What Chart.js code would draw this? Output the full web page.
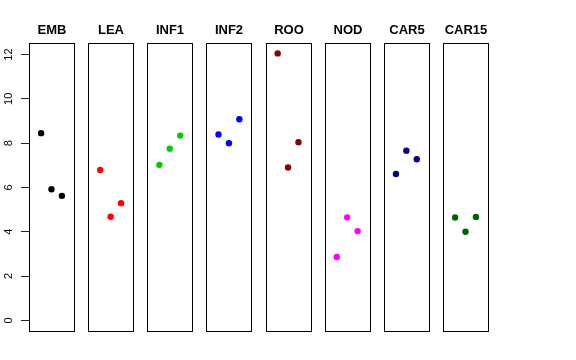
<!DOCTYPE html>
<html>
<head>
<meta charset="utf-8">
<script src="https://cdn.jsdelivr.net/npm/chart.js@4/dist/chart.umd.min.js"></script>
<style>
html,body{margin:0;padding:0;background:#fff;}
canvas{display:block;}
</style>
</head>
<body>
<canvas id="c" width="576" height="360"></canvas>
<script>
// ---- data ----
const categories = ['EMB', 'LEA', 'INF1', 'INF2', 'ROO', 'NOD', 'CAR5', 'CAR15'];
const colors = ['#000000', '#FF0000', '#00CD00', '#0000FF', '#8B0000', '#FF00FF', '#00008B', '#006400'];
const rep1 = [8.45, 6.79, 7.02, 8.39, 12.05, 2.86, 6.61, 4.64];
const rep2 = [5.92, 4.68, 7.75, 8.00, 6.90, 4.65, 7.66, 4.00];
const rep3 = [5.62, 5.29, 8.34, 9.08, 8.04, 4.03, 7.27, 4.67];
const yTicks = [0, 2, 4, 6, 8, 10, 12];

// ---- layout (panel spacing in x units) ----
const PITCH = 5.68;
const XPAD = 0.16;

const datasets = categories.map((cat, i) => ({
  label: cat,
  data: [rep1[i], rep2[i], rep3[i]].map((v, j) => ({x: i * PITCH + j + 1, y: v})),
  backgroundColor: colors[i],
  borderColor: colors[i],
  borderWidth: 0,
  pointRadius: 3.2,
  pointHoverRadius: 3.2
}));

const panelPlugin = {
  id: 'panels',
  afterDatasetsDraw(chart) {
    const {ctx, chartArea, scales} = chart;
    const xs = scales.x;
    ctx.save();
    ctx.strokeStyle = '#000';
    ctx.lineWidth = 1;
    ctx.font = 'bold 13px "Liberation Sans", Arial, Helvetica, sans-serif';
    ctx.fillStyle = '#000';
    ctx.textAlign = 'center';
    ctx.textBaseline = 'alphabetic';
    categories.forEach((cat, i) => {
      const l = Math.round(xs.getPixelForValue(i * PITCH - XPAD)) + 0.5;
      const r = Math.round(xs.getPixelForValue(i * PITCH + 4 + XPAD)) + 0.5;
      const t = Math.round(chartArea.top) + 0.5;
      const b = Math.round(chartArea.bottom) + 0.5;
      ctx.strokeRect(l, t, r - l, b - t);
      ctx.fillText(cat, (l + r) / 2, 34);
    });
    ctx.restore();
  }
};

new Chart(document.getElementById('c'), {
  type: 'scatter',
  data: {datasets},
  options: {
    responsive: false,
    animation: false,
    devicePixelRatio: 1,
    layout: {padding: {left: 0, right: 88, top: 43, bottom: 29}},
    plugins: {legend: {display: false}, tooltip: {enabled: false}, title: {display: false}},
    scales: {
      x: {
        type: 'linear',
        display: false,
        min: -XPAD,
        max: (categories.length - 1) * PITCH + 4 + XPAD
      },
      y: {
        type: 'linear',
        position: 'left',
        min: -0.48,
        max: 12.52,
        afterBuildTicks(scale) { scale.ticks = yTicks.map(v => ({value: v})); },
        afterFit(scale) { scale.width = 29; },
        border: {display: false},
        grid: {drawOnChartArea: false, drawTicks: true, tickLength: 8, color: '#222', lineWidth: 1},
        ticks: {
          color: '#000',
          font: {family: '"Liberation Sans", Arial, Helvetica, sans-serif', size: 11},
          minRotation: 90,
          maxRotation: 90,
          crossAlign: 'center',
          padding: 6,
          callback: v => String(v)
        }
      }
    }
  },
  plugins: [panelPlugin]
});
</script>
</body>
</html>
